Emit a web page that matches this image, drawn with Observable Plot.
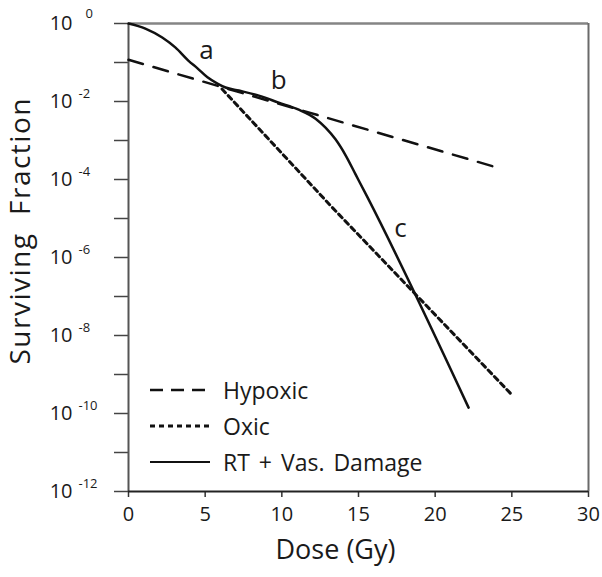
<!DOCTYPE html>
<html><head><meta charset="utf-8">
<script src="https://cdn.jsdelivr.net/npm/d3@7"></script>
<script src="https://cdn.jsdelivr.net/npm/@observablehq/plot@0.6"></script>
<style>
body{margin:0;background:#fff;}
#wrap{position:relative;width:602px;height:577px;font-family:"Open Sans",sans-serif;}
#legend{position:absolute;left:150px;top:372px;font-size:23px;color:#1a1a1a;word-spacing:3px;}
.row{display:flex;align-items:center;height:36px;white-space:pre;}
.row svg{width:62px;height:10px;margin-right:11px;}
</style></head><body><div id="wrap"><div id="legend"></div></div>
<script>
// Dose (Gy) and log10(surviving fraction)
const hypoxicDose = [0, 24.1];
const hypoxicLog = [-0.93, -3.70];
const oxicDose = [6.1, 13.2, 25.05];
const oxicLog = [-1.68, -4.68, -9.54];
const rtDose = [0, 1.1, 2.2, 3.07, 3.9, 4.5, 5.15, 5.8, 6.33, 7.2, 8.5, 9.8, 11.1, 12.2, 12.85, 13.5, 14.16, 14.81, 15.59, 22.18];
const rtLog = [0, -0.13, -0.36, -0.62, -0.95, -1.15, -1.38, -1.54, -1.64, -1.72, -1.85, -2.03, -2.21, -2.44, -2.67, -2.97, -3.38, -3.87, -4.46, -9.85];
const noteText = ["a", "b", "c"];
const noteDose = [5.09, 9.79, 17.73];
const noteLog = [-0.69, -1.46, -5.26];
const xTicks = [0, 5, 10, 15, 20, 25, 30];
const yExps = [0, -1, -2, -3, -4, -5, -6, -7, -8, -9, -10, -11, -12];
const yLabelExps = [0, -2, -4, -6, -8, -10, -12];
const legendNames = ["Hypoxic", "Oxic", "RT + Vas. Damage"];

const toRows = (ds, ls) => ds.map((d, i) => ({dose: d, sf: 10 ** ls[i]}));
const hyp = toRows(hypoxicDose, hypoxicLog);
const oxic = toRows(oxicDose, oxicLog);
const rt = toRows(rtDose, rtLog);
const notes = noteText.map((t, i) => ({t, dose: noteDose[i], sf: 10 ** noteLog[i]}));

const font = '"Open Sans", sans-serif';
const chart = Plot.plot({
  width: 602, height: 577,
  marginLeft: 128, marginRight: 14, marginTop: 23, marginBottom: 86,
  style: {fontFamily: font, background: "#fff", color: "#1a1a1a"},
  x: {domain: [0, 30]},
  y: {type: "log", domain: [1e-12, 1]},
  marks: [
    Plot.ruleY([1], {stroke: "#858585", strokeWidth: 2.5}),
    Plot.ruleX([30], {stroke: "#6a6a6a", strokeWidth: 2}),
    Plot.axisX({ticks: xTicks, tickSize: 6, tickPadding: 9, fontSize: 20, label: null, stroke: "#333", strokeWidth: 1.5}),
    Plot.axisY({ticks: yExps.map(e => 10 ** e), tickSize: 14, tickFormat: () => "", label: null, stroke: "#444", strokeWidth: 1.5}),
    Plot.ruleX([0], {stroke: "#555", strokeWidth: 2}),
    Plot.ruleY([1e-12], {stroke: "#222", strokeWidth: 2}),
    Plot.text(yLabelExps, {x: 0, y: e => 10 ** e, text: () => "10", textAnchor: "end", dx: -56, fontSize: 20, fill: "#1a1a1a"}),
    Plot.text(yLabelExps.filter(e => e !== 0), {x: 0, y: e => 10 ** e, text: e => String(e), textAnchor: "start", dx: -50, dy: -8, fontSize: 13, fill: "#1a1a1a"}),
    Plot.text(yLabelExps.filter(e => e === 0), {x: 0, y: e => 10 ** e, text: e => String(e), textAnchor: "start", dx: -43, dy: -10, fontSize: 13, fill: "#1a1a1a"}),
    Plot.line(hyp, {x: "dose", y: "sf", stroke: "#111", strokeWidth: 2.5, strokeDasharray: "15,11"}),
    Plot.line(oxic, {x: "dose", y: "sf", stroke: "#111", strokeWidth: 3, strokeDasharray: "5,4"}),
    Plot.line(rt, {x: "dose", y: "sf", stroke: "#111", strokeWidth: 2.5, curve: "monotone-x"}),
    Plot.text(notes, {x: "dose", y: "sf", text: "t", fontSize: 26, fill: "#1a1a1a"}),
    Plot.text(["Dose (Gy)"], {frameAnchor: "bottom", dx: -23, dy: 67, fontSize: 27, fill: "#1a1a1a"}),
    Plot.text(["Surviving  Fraction"], {frameAnchor: "left", dx: -107, dy: 107, rotate: -90, fontSize: 28, fill: "#1a1a1a", className: "ylab"})
  ]
});
chart.querySelectorAll("text").forEach(t => t.setAttribute("xml:space", "preserve"));
chart.querySelectorAll(".ylab text").forEach(t => t.style.letterSpacing = "1.5px");
document.getElementById("wrap").prepend(chart);

const dashes = ["13,8", "5,4", null];
const widths = [2.5, 3, 2];
const leg = document.getElementById("legend");
legendNames.forEach((name, i) => {
  const row = document.createElement("div");
  row.className = "row";
  const ns = "http://www.w3.org/2000/svg";
  const s = document.createElementNS(ns, "svg");
  const l = document.createElementNS(ns, "line");
  l.setAttribute("x1", 0); l.setAttribute("x2", 60); l.setAttribute("y1", 5); l.setAttribute("y2", 5);
  l.setAttribute("stroke", "#111"); l.setAttribute("stroke-width", widths[i]);
  if (dashes[i]) l.setAttribute("stroke-dasharray", dashes[i]);
  s.appendChild(l);
  row.appendChild(s);
  const sp = document.createElement("span");
  sp.textContent = name;
  row.appendChild(sp);
  leg.appendChild(row);
});
</script></body></html>
